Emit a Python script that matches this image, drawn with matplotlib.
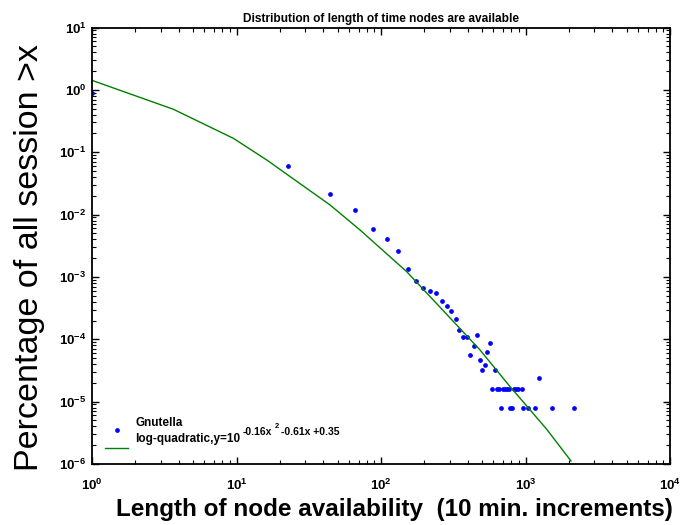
import matplotlib
matplotlib.use("Agg")
import matplotlib.pyplot as plt
from matplotlib.ticker import FixedLocator, LogFormatterMathtext, NullFormatter
from matplotlib.legend_handler import HandlerLine2D

plt.rcParams['font.family'] = ['Liberation Sans', 'DejaVu Sans']
plt.rcParams['font.weight'] = 'bold'
plt.rcParams['mathtext.fontset'] = 'custom'
plt.rcParams['mathtext.rm'] = 'Liberation Sans:bold'
plt.rcParams['mathtext.it'] = 'Liberation Sans:bold'
plt.rcParams['mathtext.bf'] = 'Liberation Sans:bold'

# Observed data (Gnutella)
gnutella_x = [1, 22.7, 44.6, 66.1, 88.1, 110, 132, 154, 175, 196, 218, 240, 263, 285,
              305, 328, 349, 371, 395, 415, 437, 460, 482, 502, 527, 544, 566, 612, 1247,
              589, 638, 653, 702, 721, 741, 764, 828, 855, 891, 946,
              677, 785, 807, 961, 1046, 1158, 1532, 2157]
gnutella_y = [0.90, 0.0594, 0.0214, 0.01172, 0.00594, 0.00406, 0.00261, 0.00133, 8.7e-4,
              6.7e-4, 5.9e-4, 5.6e-4, 4.16e-4, 3.4e-4, 2.88e-4, 2.08e-4, 1.43e-4, 1.10e-4,
              1.10e-4, 5.5e-5, 7.9e-5, 1.19e-4, 4.7e-5, 3.18e-5, 3.9e-5, 6.3e-5, 8.7e-5,
              3.18e-5, 2.37e-5,
              1.58e-5, 1.58e-5, 1.58e-5, 1.58e-5, 1.58e-5, 1.58e-5, 1.58e-5, 1.58e-5,
              1.58e-5, 1.58e-5, 1.58e-5,
              7.9e-6, 7.9e-6, 7.9e-6, 7.9e-6, 7.9e-6, 7.9e-6, 7.9e-6, 7.9e-6]

# Fitted log-quadratic curve, as drawn
fit_x = [1.0, 3.66, 9.51, 16.2, 44.4, 71.6, 150.7, 230, 484, 782, 1403, 2065]
fit_y = [1.42, 0.488, 0.167, 0.0750, 0.01426, 0.00566, 0.001213, 4.27e-4,
         6.75e-5, 1.74e-5, 3.6e-6, 1.117e-6]

# Axis ticks (decades)
x_ticks = [1e0, 1e1, 1e2, 1e3, 1e4]
y_ticks = [1e-6, 1e-5, 1e-4, 1e-3, 1e-2, 1e-1, 1e0, 1e1]

title = "Distribution of length of time nodes are available"
xlabel = "Length of node availability  (10 min. increments)"
ylabel = "Percentage of all session >x"
label_data = "Gnutella"
label_fit = "log-quadratic,y=10"
exp_parts = ["-0.16x", "2", "-0.61x +0.35"]


class ShiftedHandler(HandlerLine2D):
    def __init__(self, dy, **kw):
        super().__init__(**kw)
        self.dy = dy

    def create_artists(self, legend, orig_handle, xdescent, ydescent, width,
                       height, fontsize, trans):
        return super().create_artists(legend, orig_handle, xdescent,
                                      ydescent + self.dy, width, height,
                                      fontsize, trans)


def minor_ticks(lo_exp, hi_exp):
    return [m * 10.0 ** e for e in range(lo_exp, hi_exp) for m in range(2, 10)]


W, H = 682, 525
fig = plt.figure(figsize=(W / 100, H / 100), dpi=100)
ax = fig.add_axes([92/W, (H-464)/H, (670-92)/W, (464-27.5)/H])

pts, = ax.loglog(gnutella_x, gnutella_y, '.', color='#0000ff', markersize=4.8,
                 label=label_data)
fit, = ax.loglog(fit_x, fit_y, '-', color='#008000', linewidth=1.0, label=label_fit)

ax.set_xlim(x_ticks[0], x_ticks[-1])
ax.set_ylim(y_ticks[0], y_ticks[-1])

ax.xaxis.set_major_locator(FixedLocator(x_ticks))
ax.yaxis.set_major_locator(FixedLocator(y_ticks))
ax.xaxis.set_major_formatter(LogFormatterMathtext())
ax.yaxis.set_major_formatter(LogFormatterMathtext())
ax.xaxis.set_minor_locator(FixedLocator(minor_ticks(0, 4)))
ax.yaxis.set_minor_locator(FixedLocator(minor_ticks(-6, 1)))
ax.xaxis.set_minor_formatter(NullFormatter())
ax.yaxis.set_minor_formatter(NullFormatter())

ax.tick_params(which='both', direction='in', top=True, right=True, labelsize=9.5)
ax.tick_params(which='major', length=5, width=1)
ax.tick_params(which='minor', length=3, width=0.8)
ax.tick_params(axis='x', which='major', pad=10)
ax.tick_params(axis='y', which='major', pad=4)
for s in ax.spines.values():
    s.set_linewidth(1.3)

ax.set_title(title, fontsize=8.6, fontweight='bold', pad=4)
ax.set_xlabel(xlabel, fontsize=17.5, fontweight='bold')
ax.xaxis.set_label_coords(0.524, -0.079)
ax.set_ylabel(ylabel, fontsize=24.5, fontweight='normal')
ax.yaxis.set_label_coords(-0.081, 0.472)

leg = ax.legend(handles=[pts, fit], loc='lower left', frameon=False, numpoints=1,
                prop={'weight': 'bold', 'size': 8.5}, handlelength=1.95,
                handletextpad=0.64, borderpad=0.4, borderaxespad=0,
                bbox_to_anchor=(0.0144, 0.032), labelspacing=0.35,
                handler_map={pts: ShiftedHandler(12), fit: ShiftedHandler(14.7)})

# exponent of the fit legend label
fig.canvas.draw()
r = fig.canvas.get_renderer()
bb = leg.get_texts()[1].get_window_extent(r)
yc = (bb.y0 + bb.y1) / 2
e1 = fig.text((bb.x1 + 2) / W, (yc + 7.5) / H, exp_parts[0], fontsize=7.5,
              fontweight='bold', va='center', ha='left')
b1 = e1.get_window_extent(r)
e2 = fig.text((b1.x1 + 3) / W, (yc + 12.5) / H, exp_parts[1], fontsize=5.5,
              fontweight='bold', va='center', ha='left')
b2 = e2.get_window_extent(r)
e3 = fig.text((b2.x1 + 2) / W, (yc + 7.5) / H, exp_parts[2], fontsize=7.5,
              fontweight='bold', va='center', ha='left')

fig.savefig("out.png", dpi=100)
